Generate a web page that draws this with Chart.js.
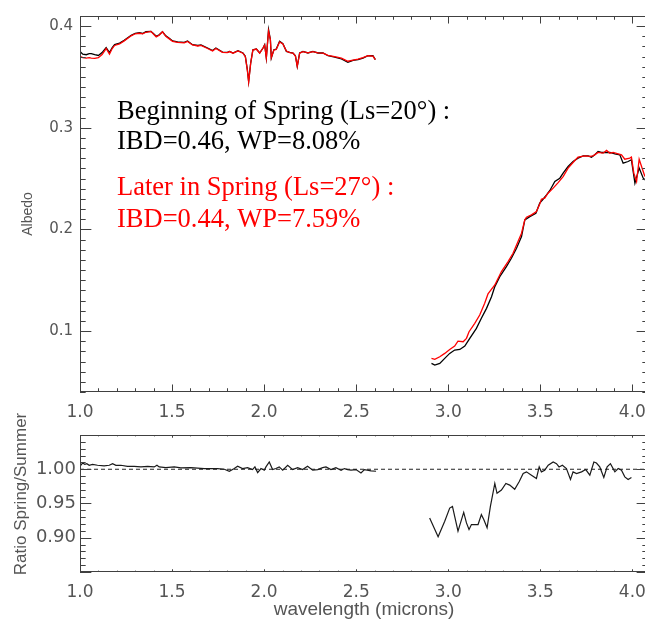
<!DOCTYPE html>
<html>
<head>
<meta charset="utf-8">
<script src="https://cdn.jsdelivr.net/npm/chart.js@4.4.0/dist/chart.umd.min.js"></script>
<style>
    html, body { margin: 0; padding: 0; background: #fff; overflow: hidden; }
    #wrap { position: relative; width: 645px; height: 623px; overflow: hidden; }
    #albedoChart { position: absolute; left: 0; top: 0; }
    #ratioChart { position: absolute; left: 0; top: 395px; }
</style>
</head>
<body>
<div id="wrap">
    <canvas id="albedoChart" width="660" height="420"></canvas>
    <canvas id="ratioChart" width="660" height="228"></canvas>
</div>
<script>
// Axis ticks.
const xTicks = [1.0, 1.5, 2.0, 2.5, 3.0, 3.5, 4.0];
const albedoTicks = [0.1, 0.2, 0.3, 0.4];
const ratioTicks = [0.90, 0.95, 1.00];

// Albedo, 1.0 - 2.6 microns (both seasons share the wavelengths).
const wlShort = [1.003, 1.015, 1.034, 1.050, 1.061, 1.080, 1.100, 1.120, 1.142, 1.160, 1.175, 1.188, 1.215, 1.240,
    1.278, 1.300, 1.323, 1.340, 1.358, 1.385, 1.400, 1.414, 1.430, 1.448, 1.466, 1.485, 1.503, 1.530, 1.566, 1.584,
    1.611, 1.640, 1.657, 1.693, 1.720, 1.738, 1.774, 1.800, 1.813, 1.831, 1.858, 1.885, 1.898, 1.909, 1.916, 1.927,
    1.939, 1.958, 1.976, 1.994, 2.003, 2.012, 2.024, 2.034, 2.039, 2.053, 2.066, 2.084, 2.102, 2.121, 2.139, 2.157,
    2.170, 2.180, 2.193, 2.211, 2.238, 2.265, 2.292, 2.320, 2.347, 2.383, 2.420, 2.455, 2.483, 2.510, 2.537, 2.564,
    2.591, 2.604];
const albedoBeginShort = [0.3745, 0.3725, 0.3719, 0.3730, 0.3729, 0.3720, 0.3712, 0.3740, 0.3790, 0.3740, 0.3790,
    0.3818, 0.3834, 0.3860, 0.3910, 0.3930, 0.3935, 0.3928, 0.3945, 0.3949, 0.3925, 0.3900, 0.3915, 0.3945, 0.3905,
    0.3880, 0.3855, 0.3845, 0.3840, 0.3855, 0.3818, 0.3810, 0.3815, 0.3785, 0.3760, 0.3785, 0.3745, 0.3742, 0.3752,
    0.3736, 0.3759, 0.3736, 0.3703, 0.3571, 0.3456, 0.3637, 0.3768, 0.3775, 0.3736, 0.3785, 0.3818, 0.3686, 0.3966,
    0.3867, 0.3686, 0.3768, 0.3775, 0.3851, 0.3828, 0.3752, 0.3742, 0.3736, 0.3709, 0.3604, 0.3736, 0.3752, 0.3736,
    0.3752, 0.3736, 0.3736, 0.3709, 0.3696, 0.3677, 0.3644, 0.3663, 0.3670, 0.3686, 0.3709, 0.3709, 0.3670];
const albedoLaterShort = [0.3700, 0.3690, 0.3686, 0.3690, 0.3686, 0.3684, 0.3690, 0.3720, 0.3780, 0.3725, 0.3780,
    0.3810, 0.3825, 0.3855, 0.3905, 0.3925, 0.3930, 0.3925, 0.3940, 0.3949, 0.3920, 0.3895, 0.3910, 0.3945, 0.3900,
    0.3875, 0.3850, 0.3840, 0.3835, 0.3850, 0.3815, 0.3805, 0.3810, 0.3780, 0.3755, 0.3780, 0.3742, 0.3740, 0.3750,
    0.3734, 0.3757, 0.3734, 0.3700, 0.3565, 0.3450, 0.3635, 0.3765, 0.3775, 0.3734, 0.3785, 0.3815, 0.3686, 0.3950,
    0.3867, 0.3690, 0.3765, 0.3770, 0.3845, 0.3825, 0.3755, 0.3740, 0.3735, 0.3705, 0.3604, 0.3734, 0.3750, 0.3738,
    0.3750, 0.3738, 0.3735, 0.3712, 0.3700, 0.3685, 0.3655, 0.3665, 0.3675, 0.3690, 0.3709, 0.3705, 0.3670];

// Albedo, 2.9 - 4.1 microns.
const wlBeginLong = [2.909, 2.927, 2.954, 2.981, 3.008, 3.035, 3.063, 3.090, 3.117, 3.153, 3.180, 3.208, 3.235,
    3.253, 3.280, 3.316, 3.343, 3.371, 3.398, 3.416, 3.443, 3.476, 3.497, 3.515, 3.534, 3.552, 3.579, 3.606, 3.624,
    3.651, 3.678, 3.705, 3.733, 3.760, 3.778, 3.796, 3.814, 3.832, 3.851, 3.878, 3.905, 3.932, 3.950, 3.977, 3.995,
    4.014, 4.037, 4.059, 4.075];
const albedoBeginLong = [0.0682, 0.0665, 0.0682, 0.0731, 0.0780, 0.0813, 0.0819, 0.0852, 0.0928, 0.1026, 0.1125,
    0.1223, 0.1338, 0.1437, 0.1535, 0.1634, 0.1716, 0.1814, 0.1929, 0.2094, 0.2126, 0.2159, 0.2258, 0.2297, 0.2340,
    0.2383, 0.2471, 0.2504, 0.2553, 0.2619, 0.2668, 0.2701, 0.2724, 0.2724, 0.2711, 0.2734, 0.2767, 0.2757, 0.2757,
    0.2757, 0.2744, 0.2734, 0.2652, 0.2668, 0.2685, 0.2455, 0.2603, 0.2504, 0.2480];
const wlLaterLong = [2.909, 2.927, 2.954, 2.981, 3.008, 3.035, 3.053, 3.081, 3.099, 3.113, 3.144, 3.171, 3.198,
    3.216, 3.253, 3.289, 3.325, 3.352, 3.379, 3.398, 3.416, 3.425, 3.452, 3.479, 3.497, 3.506, 3.524, 3.542, 3.570,
    3.597, 3.624, 3.651, 3.678, 3.705, 3.742, 3.769, 3.787, 3.814, 3.841, 3.860, 3.878, 3.896, 3.923, 3.941, 3.959,
    3.986, 3.995, 4.008, 4.023, 4.037, 4.050, 4.068];
const albedoLaterLong = [0.0731, 0.0721, 0.0747, 0.0780, 0.0819, 0.0852, 0.0901, 0.0895, 0.0928, 0.0993, 0.1076,
    0.1158, 0.1273, 0.1365, 0.1453, 0.1585, 0.1683, 0.1765, 0.1880, 0.1962, 0.2094, 0.2120, 0.2143, 0.2176, 0.2251,
    0.2297, 0.2307, 0.2356, 0.2406, 0.2461, 0.2520, 0.2603, 0.2658, 0.2711, 0.2724, 0.2718, 0.2724, 0.2757, 0.2750,
    0.2777, 0.2750, 0.2757, 0.2744, 0.2734, 0.2691, 0.2701, 0.2711, 0.2553, 0.2471, 0.2691, 0.2619, 0.2520];

// Ratio spring / summer.
const ratioWlShort = [1.004, 1.014, 1.026, 1.037, 1.050, 1.068, 1.095, 1.131, 1.159, 1.177, 1.195, 1.222, 1.258,
    1.294, 1.331, 1.367, 1.403, 1.418, 1.430, 1.466, 1.512, 1.548, 1.602, 1.675, 1.747, 1.784, 1.811, 1.838, 1.856,
    1.883, 1.910, 1.937, 1.950, 1.965, 1.983, 2.001, 2.010, 2.028, 2.046, 2.064, 2.082, 2.101, 2.128, 2.155, 2.182,
    2.209, 2.236, 2.264, 2.291, 2.318, 2.336, 2.363, 2.390, 2.418, 2.436, 2.454, 2.472, 2.499, 2.526, 2.545, 2.581,
    2.608];
const ratioShort = [1.0058, 1.0091, 1.0072, 1.0082, 1.0058, 1.0072, 1.0058, 1.0048, 1.0058, 1.0082, 1.0058, 1.0058,
    1.0043, 1.0043, 1.0034, 1.0043, 1.0034, 1.0058, 1.0034, 1.0024, 1.0034, 1.0019, 1.0024, 1.0010, 1.0010, 1.0000,
    0.9971, 1.0010, 1.0043, 1.0010, 1.0024, 0.9995, 1.0034, 0.9952, 1.0010, 0.9986, 1.0034, 1.0106, 0.9995, 1.0010,
    1.0034, 0.9986, 1.0058, 0.9995, 1.0024, 0.9995, 1.0043, 0.9986, 0.9995, 1.0024, 1.0034, 0.9995, 1.0024, 0.9986,
    1.0010, 0.9995, 0.9986, 0.9995, 0.9947, 0.9995, 0.9976, 0.9971];
const ratioWlLong = [2.899, 2.945, 2.981, 3.008, 3.023, 3.035, 3.053, 3.084, 3.099, 3.113, 3.126, 3.162, 3.180,
    3.193, 3.211, 3.229, 3.253, 3.265, 3.289, 3.313, 3.334, 3.361, 3.385, 3.407, 3.425, 3.452, 3.479, 3.494, 3.506,
    3.524, 3.543, 3.570, 3.588, 3.602, 3.620, 3.642, 3.664, 3.678, 3.697, 3.724, 3.747, 3.769, 3.791, 3.805, 3.823,
    3.845, 3.863, 3.881, 3.905, 3.923, 3.941, 3.959, 3.977, 3.995];
const ratioLong = [0.9289, 0.9015, 0.9241, 0.9433, 0.9457, 0.9313, 0.9097, 0.9371, 0.9217, 0.9121, 0.9193, 0.9193,
    0.9337, 0.9265, 0.9145, 0.9457, 0.9793, 0.9649, 0.9697, 0.9793, 0.9769, 0.9707, 0.9817, 0.9938, 0.9962, 0.9914,
    0.9866, 1.0034, 0.9962, 0.9986, 1.0058, 1.0106, 1.0082, 1.0034, 1.0058, 1.0010, 0.9851, 0.9962, 0.9938, 0.9962,
    0.9995, 0.9914, 1.0106, 1.0091, 1.0034, 0.9880, 1.0034, 1.0082, 0.9962, 1.0010, 0.9986, 0.9889, 0.9851, 0.9880];

const X_MIN = 1.0;
const X_MAX = 4.085;
const AXIS_COLOR = '#404040';
const TEXT_COLOR = '#555555';
const TICK_FONT = 'DejaVu Sans';

const pts = (xs, ys) => xs.map((x, i) => ({ x: x, y: ys[i] }));

// IDL style frame: box on all four sides with inward major and minor ticks.
const frameTicks = {
    id: 'frameTicks',
    afterDatasetsDraw(chart, args, opts) {
        const { ctx, chartArea: a, scales } = chart;
        const xs = scales.x;
        const ys = scales.y;
        const xLen = a.height * 0.02;
        const yLen = a.width * 0.02;

        ctx.save();
        ctx.strokeStyle = AXIS_COLOR;
        ctx.lineWidth = 1;
        ctx.strokeRect(Math.round(a.left) + 0.5, Math.round(a.top) + 0.5,
            Math.round(a.width) - 1, Math.round(a.height) - 1);

        ctx.beginPath();
        // X ticks every 0.1, major every 0.5.
        for (let k = Math.ceil(xs.min * 10 - 1e-6); k <= Math.floor(xs.max * 10 + 1e-6); k++) {
            const px = Math.round(xs.getPixelForValue(k / 10)) + 0.5;
            const len = k % 5 === 0 ? xLen : xLen / 2;
            ctx.moveTo(px, a.bottom);
            ctx.lineTo(px, a.bottom - len);
            ctx.moveTo(px, a.top);
            ctx.lineTo(px, a.top + len);
        }
        // Y ticks every opts.minor, major every opts.every.
        const step = opts.minor;
        for (let k = Math.ceil(ys.min / step - 1e-6); k <= Math.floor(ys.max / step + 1e-6); k++) {
            const py = Math.round(ys.getPixelForValue(k * step)) + 0.5;
            const len = k % opts.every === 0 ? yLen : yLen / 2;
            ctx.moveTo(a.left, py);
            ctx.lineTo(a.left + len, py);
            ctx.moveTo(a.right, py);
            ctx.lineTo(a.right - len, py);
        }
        ctx.stroke();
        ctx.restore();
    }
};

// Rotated y title placed where the original has it.
const yTitle = {
    id: 'yTitle',
    afterDraw(chart, args, opts) {
        const ctx = chart.ctx;
        ctx.save();
        ctx.translate(opts.x, opts.y);
        ctx.rotate(-Math.PI / 2);
        ctx.font = opts.font;
        ctx.fillStyle = TEXT_COLOR;
        ctx.textAlign = 'center';
        ctx.textBaseline = 'middle';
        ctx.fillText(opts.text, 0, 0);
        ctx.restore();
    }
};

// Season labels inside the albedo panel.
const seasonNotes = [
    { text: 'Beginning of Spring (Ls=20°) :', color: '#000000', y: 119 },
    { text: 'IBD=0.46, WP=8.08%', color: '#000000', y: 149 },
    { text: 'Later in Spring (Ls=27°) :', color: '#ff0000', y: 195 },
    { text: 'IBD=0.44, WP=7.59%', color: '#ff0000', y: 227 }
];

const notesPlugin = {
    id: 'notes',
    afterDraw(chart) {
        const ctx = chart.ctx;
        ctx.save();
        ctx.font = '26.5px "Liberation Serif"';
        ctx.textAlign = 'left';
        ctx.textBaseline = 'alphabetic';
        seasonNotes.forEach((n) => {
            ctx.fillStyle = n.color;
            ctx.fillText(n.text, 117, n.y);
        });
        ctx.restore();
    }
};

function xScale(height, fontSize, padding, withTitle) {
    return {
        type: 'linear',
        min: X_MIN,
        max: X_MAX,
        grid: { display: false, drawTicks: false },
        border: { display: false },
        afterBuildTicks: (s) => { s.ticks = xTicks.map(v => ({ value: v })); },
        afterFit: (s) => { s.height = height; s.paddingLeft = 0; s.paddingRight = 0; },
        ticks: {
            color: TEXT_COLOR,
            padding: padding,
            maxRotation: 0,
            autoSkip: false,
            font: { family: TICK_FONT, size: fontSize },
            callback: (v) => Number(v).toFixed(1)
        },
        title: {
            display: withTitle,
            text: 'wavelength (microns)',
            color: TEXT_COLOR,
            padding: { top: 0, bottom: 2 },
            font: { family: 'Liberation Sans', size: 19 }
        }
    };
}

function yScale(min, max, tickValues, digits, fontSize, padding) {
    return {
        type: 'linear',
        min: min,
        max: max,
        grid: { display: false, drawTicks: false },
        border: { display: false },
        afterBuildTicks: (s) => { s.ticks = tickValues.map(v => ({ value: v })); },
        afterFit: (s) => { s.width = 80; s.paddingTop = 0; s.paddingBottom = 0; },
        ticks: {
            color: TEXT_COLOR,
            padding: padding,
            autoSkip: false,
            font: { family: TICK_FONT, size: fontSize },
            callback: (v) => Number(v).toFixed(digits)
        }
    };
}

const lineStyle = (color, width) => ({
    borderColor: color,
    backgroundColor: color,
    borderWidth: width,
    pointRadius: 0,
    tension: 0,
    fill: false
});

new Chart(document.getElementById('albedoChart').getContext('2d'), {
    type: 'line',
    data: {
        datasets: [
            { label: 'Ls=27 short', data: pts(wlShort, albedoLaterShort), ...lineStyle('#ff0000', 1.3) },
            { label: 'Ls=27 long', data: pts(wlLaterLong, albedoLaterLong), ...lineStyle('#ff0000', 1.3) },
            { label: 'Ls=20 short', data: pts(wlShort, albedoBeginShort), ...lineStyle('#000000', 1.3) },
            { label: 'Ls=20 long', data: pts(wlBeginLong, albedoBeginLong), ...lineStyle('#000000', 1.3) }
        ]
    },
    options: {
        responsive: false,
        animation: false,
        layout: { padding: { top: 16, right: 12, bottom: 0, left: 0 } },
        plugins: {
            legend: { display: false },
            tooltip: { enabled: false },
            frameTicks: { minor: 0.01, every: 10 },
            yTitle: { text: 'Albedo', x: 28, y: 214, font: '14px "Liberation Sans"' }
        },
        scales: {
            x: xScale(28, 17, 10, false),
            y: yScale(0.04, 0.41, albedoTicks, 1, 15, 7)
        }
    },
    plugins: [frameTicks, yTitle, notesPlugin]
});

new Chart(document.getElementById('ratioChart').getContext('2d'), {
    type: 'line',
    data: {
        datasets: [
            { label: 'ratio short', data: pts(ratioWlShort, ratioShort), ...lineStyle('#1a1a1a', 1.2) },
            { label: 'ratio long', data: pts(ratioWlLong, ratioLong), ...lineStyle('#1a1a1a', 1.2) },
            {
                label: 'unity',
                data: pts([X_MIN, X_MAX], [1.0, 1.0]),
                ...lineStyle('#222222', 1),
                borderDash: [4, 3]
            }
        ]
    },
    options: {
        responsive: false,
        animation: false,
        layout: { padding: { top: 40, right: 12, bottom: 0, left: 0 } },
        plugins: {
            legend: { display: false },
            tooltip: { enabled: false },
            frameTicks: { minor: 0.01, every: 5 },
            yTitle: { text: 'Ratio Spring/Summer', x: 21, y: 99, font: '17px "Liberation Sans"' }
        },
        scales: {
            x: xScale(51, 17, 10, true),
            y: yScale(0.85, 1.05, ratioTicks, 2, 18, 4)
        }
    },
    plugins: [frameTicks, yTitle]
});
</script>
</body>
</html>
